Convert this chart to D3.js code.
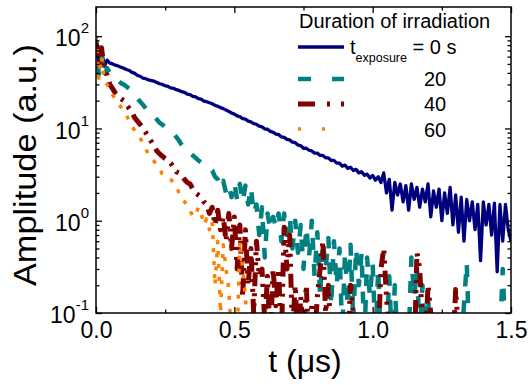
<!DOCTYPE html>
<html><head><meta charset="utf-8">
<script src="https://cdn.jsdelivr.net/npm/d3@7"></script>
<style>
body{margin:0;background:#fff}
svg{display:block}
text{font-family:"Liberation Sans",Arial,Helvetica,sans-serif;fill:#000}
</style>
</head><body>
<svg id="chart" width="528" height="385"></svg>
<script>
// ---- data (sampled every DT microseconds from T0) ----
const T0 = 0, DT = 0.01;
const xTickValues = [0, 0.5, 1.0, 1.5];
const xTickLabels = ["0.0", "0.5", "1.0", "1.5"];
const xMinorValues = [0.25, 0.75, 1.25];
const yTickValues = [0.1, 1, 10, 100];
const yTickExponents = ["-1", "0", "1", "2"];
const yMinorValues = [0.2,0.3,0.4,0.5,0.6,0.7,0.8,0.9,2,3,4,5,6,7,8,9,20,30,40,50,60,70,80,90];
const seriesLabels = ["= 0 s", "20", "40", "60"];

const amp0s = [100,48,72,47,55,51,50,48.5,47.5,46,
 45,43.5,42.5,40.5,39.5,37.5,36.8,35,34.6,33.5,
 33,32.5,31.5,30.5,30,29,28.5,27.5,27.2,26.3,
 25.8,25,24.6,23.5,23.2,22.2,22,21,20.8,19.8,
 19.5,19.0,18.5,17.8,17.4,16.8,16.4,15.8,15.3,14.7,
 14.3,13.7,13.4,12.8,12.6,12.0,11.8,11.3,11.1,10.6,
 10.4,9.9,9.8,9.3,9.1,8.7,8.6,8.1,8.0,7.6,
 7.5,7.1,7.0,6.6,6.5,6.1,6.1,5.8,5.7,5.4,
 5.4,5.1,5.1,4.8,4.8,4.5,4.5,4.2,4.2,3.9,
 4.0,3.7,3.8,3.5,3.6,3.3,3.4,3.1,3.2,2.9,
 3.1,2.75,3.0,2.6,3.3,2.0,2.8,1.3,2.6,1.9,
 2.5,1.6,2.4,1.3,2.5,1.7,2.3,1.4,2.2,1.6,
 2.5,1.1,2.1,1.4,2.2,1.0,2.0,1.2,2.3,0.9,
 1.9,0.75,1.8,0.6,1.7,1.0,1.6,0.8,1.5,0.37,
 1.6,0.9,1.5,0.7,1.55,0.28,1.5,0.6,1.5,0.8,
 0.6];

const amp20s = [90,38,60,35,45,40,39,36,33,31,
 30,28.5,27,25,23,21,19.5,18,16.5,15.5,
 14.5,13.5,12.5,11.5,11,10.3,9.8,9.4,8.8,8.1,
 7.4,6.6,6.0,5.5,5.4,5.1,4.8,4.5,4.3,4.1,
 3.9,3.7,3.5,3.0,2.8,2.3,2.7,2.0,2.4,1.8,
 2.6,1.7,2.5,1.6,2.4,1.5,2.3,1.2,1.5,0.7,
 1.4,0.4,1.2,0.8,1.1,0.85,1.2,0.6,1.2,0.7,
 1.1,0.5,1.0,0.45,0.9,0.3,0.85,0.4,1.0,0.25,
 0.75,0.15,0.6,0.3,0.65,0.12,0.6,0.2,0.5,0.06,
 0.45,0.12,0.55,0.08,0.5,0.2,0.45,0.05,0.4,0.15,
 0.35,0.05,0.3,0.04,0.08,0.05,0.25,0.04,0.2,0.05,
 0.06,0.03,0.08,0.05,0.4,0.15,0.3,0.06,0.2,0.04,
 0.15,0.05,0.07,0.03,0.06,0.04,0.07,0.03,0.05,0.04,
 0.06,0.03,0.05,0.12,0.35,0.04,0.06,0.03,0.05,0.04,
 0.06,0.03,0.05,0.04,0.06,0.03,0.05,0.3,0.05,0.04,
 0.05];

const amp40s = [85,45,75,42,38,30,27,24,22,21,
 20,18,16.5,15,13,12,11,10,9,8,
 7.2,6.4,5.7,5.3,5.0,4.7,4.5,4.2,3.8,3.4,
 3.3,3.1,2.8,2.6,2.5,2.2,2.0,1.9,1.8,1.6,
 1.5,1.2,1.4,0.9,1.3,0.8,1.1,0.6,1.2,0.5,
 1.1,0.3,0.9,0.15,0.8,0.2,0.5,0.1,0.6,0.25,
 0.3,0.08,0.25,0.05,0.3,0.12,0.3,0.05,0.85,0.3,
 0.7,0.06,0.2,0.04,0.15,0.05,0.2,0.04,0.12,0.05,
 0.15,0.3,0.6,0.1,0.2,0.05,0.08,0.04,0.06,0.03,
 0.05,0.04,0.2,0.1,0.05,0.03,0.06,0.04,0.05,0.03,
 0.06,0.04,0.05,0.3,0.5,0.15,0.05,0.03,0.06,0.04,
 0.05,0.03,0.05,0.04,0.06,0.03,0.45,0.3,0.08,0.04,
 0.2,0.1,0.05,0.03,0.05,0.04,0.06,0.03,0.05,0.04,
 0.18,0.06,0.04,0.03,0.05,0.04,0.06,0.03,0.05,0.04,
 0.06,0.03,0.05,0.04,0.06,0.03,0.05,0.04,0.06,0.03,
 0.05];

const amp60s = [100,35,60,33,30,27,23,21,19,17,
 15,14,12,10.5,9.5,8.5,7.8,7,6,5.2,
 4.8,4.4,4,3.6,3.2,3.0,2.9,2.8,2.6,2.4,
 2.0,1.7,1.6,1.5,1.3,1.1,1.15,1.4,1.2,0.9,
 1.05,0.8,1.0,0.2,0.6,0.1,0.55,0.3,0.18,0.05,
 0.1,0.05,0.6,0.3,0.15,0.05,0.04,0.05,0.03,0.04];

const seriesData = [amp0s, amp20s, amp40s, amp60s];

// ---- styles ----
const styles = [
  {color:"#00007f", width:3.3, dash:null, legendDash:null},
  {color:"#008080", width:4.5, dash:"12,14", legendDash:"13,21"},
  {color:"#800000", width:5, dash:"14,7,3,7,3,7", legendDash:"17,12,3,11,3,12"},
  {color:"#ff8000", width:3.5, dash:"4,9", legendDash:"3,21"}
];

const svg = d3.select("#chart");
const L = 96, R = 511, T = 7, B = 313;
const x = d3.scaleLinear().domain([0, 1.5]).range([L, R]);
const y = d3.scaleLog().domain([0.1, 207]).range([B, T]);

svg.append("defs").append("clipPath").attr("id","plotclip")
  .append("rect").attr("x",L).attr("y",T).attr("width",R-L).attr("height",B-T);

// ---- lines ----
const line = d3.line()
  .x((d,i) => x(T0 + i*DT))
  .y(d => y(d));
const gLines = svg.append("g").attr("clip-path","url(#plotclip)");
seriesData.forEach((arr, k) => {
  const s = styles[k];
  gLines.append("path").datum(arr)
    .attr("d", line)
    .attr("fill","none")
    .attr("stroke", s.color)
    .attr("stroke-width", s.width)
    .attr("stroke-linejoin","round")
    .attr("stroke-linecap","butt")
    .attr("stroke-dasharray", s.dash);
});

// ---- axes ----
function styleAxis(g){
  g.select(".domain").remove();
  g.selectAll(".tick line").attr("stroke","#000").attr("stroke-width",1.3);
}
const gx = svg.append("g").attr("transform",`translate(0,${B})`)
  .call(d3.axisBottom(x).tickValues(xTickValues).tickSizeInner(-6).tickSizeOuter(0).tickPadding(9)
    .tickFormat((d,i)=>xTickLabels[i]));
styleAxis(gx);
gx.selectAll(".tick text").attr("font-size",23).attr("fill","#000").style("font-family","'Liberation Sans',Arial,sans-serif");
svg.append("g").attr("transform",`translate(0,${B})`)
  .call(d3.axisBottom(x).tickValues(xMinorValues).tickSizeInner(-3.5).tickSizeOuter(0).tickFormat(""))
  .call(styleAxis);
svg.append("g").attr("transform",`translate(0,${T})`)
  .call(d3.axisTop(x).tickValues(xTickValues).tickSizeInner(-6).tickSizeOuter(0).tickFormat(""))
  .call(styleAxis);
svg.append("g").attr("transform",`translate(0,${T})`)
  .call(d3.axisTop(x).tickValues(xMinorValues).tickSizeInner(-3.5).tickSizeOuter(0).tickFormat(""))
  .call(styleAxis);

const gy = svg.append("g").attr("transform",`translate(${L},0)`)
  .call(d3.axisLeft(y).tickValues(yTickValues).tickSizeInner(-6).tickSizeOuter(0).tickPadding(7).tickFormat(""));
styleAxis(gy);
gy.selectAll(".tick text").each(function(d,i){
  const t = d3.select(this).attr("font-size",23).attr("fill","#000").attr("dy","0.42em")
    .style("font-family","'Liberation Sans',Arial,sans-serif");
  t.text(null);
  t.append("tspan").text("10");
  t.append("tspan").attr("dy",-13).attr("font-size",15).text(yTickExponents[i]);
});
svg.append("g").attr("transform",`translate(${L},0)`)
  .call(d3.axisLeft(y).tickValues(yMinorValues).tickSizeInner(-3.5).tickSizeOuter(0).tickFormat(""))
  .call(styleAxis);
svg.append("g").attr("transform",`translate(${R},0)`)
  .call(d3.axisRight(y).tickValues(yTickValues).tickSizeInner(-6).tickSizeOuter(0).tickFormat(""))
  .call(styleAxis);
svg.append("g").attr("transform",`translate(${R},0)`)
  .call(d3.axisRight(y).tickValues(yMinorValues).tickSizeInner(-3.5).tickSizeOuter(0).tickFormat(""))
  .call(styleAxis);

svg.append("rect").attr("x",L).attr("y",T).attr("width",R-L).attr("height",B-T)
  .attr("fill","none").attr("stroke","#000").attr("stroke-width",1.5);

// ---- titles ----
svg.append("text").attr("x",305).attr("y",372).attr("text-anchor","middle")
  .attr("font-size",32).text("t (\u03bcs)");
svg.append("text").attr("transform","translate(36,165) rotate(-90)").attr("text-anchor","middle")
  .attr("font-size",32).attr("textLength",242).attr("lengthAdjust","spacingAndGlyphs")
  .text("Amplitude (a.u.)");

// ---- legend ----
const lg = svg.append("g");
lg.append("text").attr("x",299).attr("y",28).attr("font-size",20).text("Duration of irradiation");
const rowY = [47, 79, 104, 129];
const textY = [54, 86, 111, 137];
styles.forEach((s,k) => {
  lg.append("line").attr("x1",298).attr("x2",344).attr("y1",rowY[k]).attr("y2",rowY[k])
    .attr("stroke",s.color).attr("stroke-width",s.width).attr("stroke-dasharray",s.legendDash);
});
const t0 = lg.append("text").attr("x",350).attr("y",textY[0]).attr("font-size",20);
t0.append("tspan").text("t");
t0.append("tspan").attr("dy",8).attr("font-size",12.5).text("exposure");
t0.append("tspan").attr("dy",-8).text(" " + seriesLabels[0]);
for (let k = 1; k < 4; k++) {
  lg.append("text").attr("x",424).attr("y",textY[k]).attr("font-size",20).text(seriesLabels[k]);
}
</script>
</body></html>
